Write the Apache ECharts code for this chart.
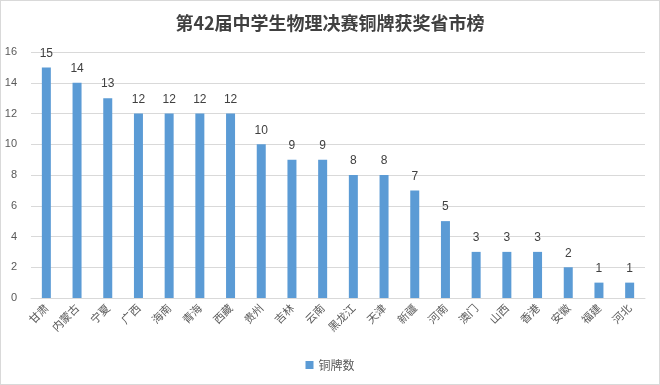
<!DOCTYPE html>
<html><head><meta charset="utf-8">
<script src="https://cdn.jsdelivr.net/npm/echarts@6/dist/echarts.min.js"></script>
<style>html,body{margin:0;padding:0;background:#fff}#c{width:660px;height:385px;box-sizing:border-box;border:1px solid #d9d9d9}</style>
</head><body><div id="c"></div>
<script>
const categories = ['甘肃','内蒙古','宁夏','广西','海南','青海','西藏','贵州','吉林','云南','黑龙江','天津','新疆','河南','澳门','山西','香港','安徽','福建','河北'];
const values = [15,14,13,12,12,12,12,10,9,9,8,8,7,5,3,3,3,2,1,1];
const seriesName = '铜牌数';
const chart = echarts.init(document.getElementById('c'));
chart.setOption({
  animation:false,
  title:{text:'第42届中学生物理决赛铜牌获奖省市榜',left:'center',top:8,textStyle:{fontSize:18,fontWeight:'bold',color:'#404040',fontFamily:'Noto Sans CJK SC'}},
  legend:{bottom:8,left:'center',itemWidth:8,itemHeight:8,icon:'rect',textStyle:{fontSize:12,color:'#595959',fontFamily:'Noto Sans CJK SC'},data:[seriesName]},
  grid:{left:30,right:14,top:51,bottom:86,containLabel:false},
  xAxis:{type:'category',data:categories,axisLine:{lineStyle:{color:'#d9d9d9'}},axisTick:{show:false},
    axisLabel:{rotate:45,interval:0,fontSize:11,color:'#595959',fontFamily:'Noto Sans CJK SC',margin:8}},
  yAxis:{type:'value',min:0,max:16,interval:2,axisLine:{show:false},axisTick:{show:false},
    splitLine:{lineStyle:{color:'#d9d9d9'}},axisLabel:{fontSize:11,color:'#595959',margin:14,fontFamily:'Liberation Sans'}},
  series:[{name:seriesName,type:'bar',data:values,barWidth:9,itemStyle:{color:'#5b9bd5'},
    label:{show:true,position:'top',distance:8,fontSize:12,color:'#404040',fontFamily:'Liberation Sans'}}]
});
</script></body></html>
